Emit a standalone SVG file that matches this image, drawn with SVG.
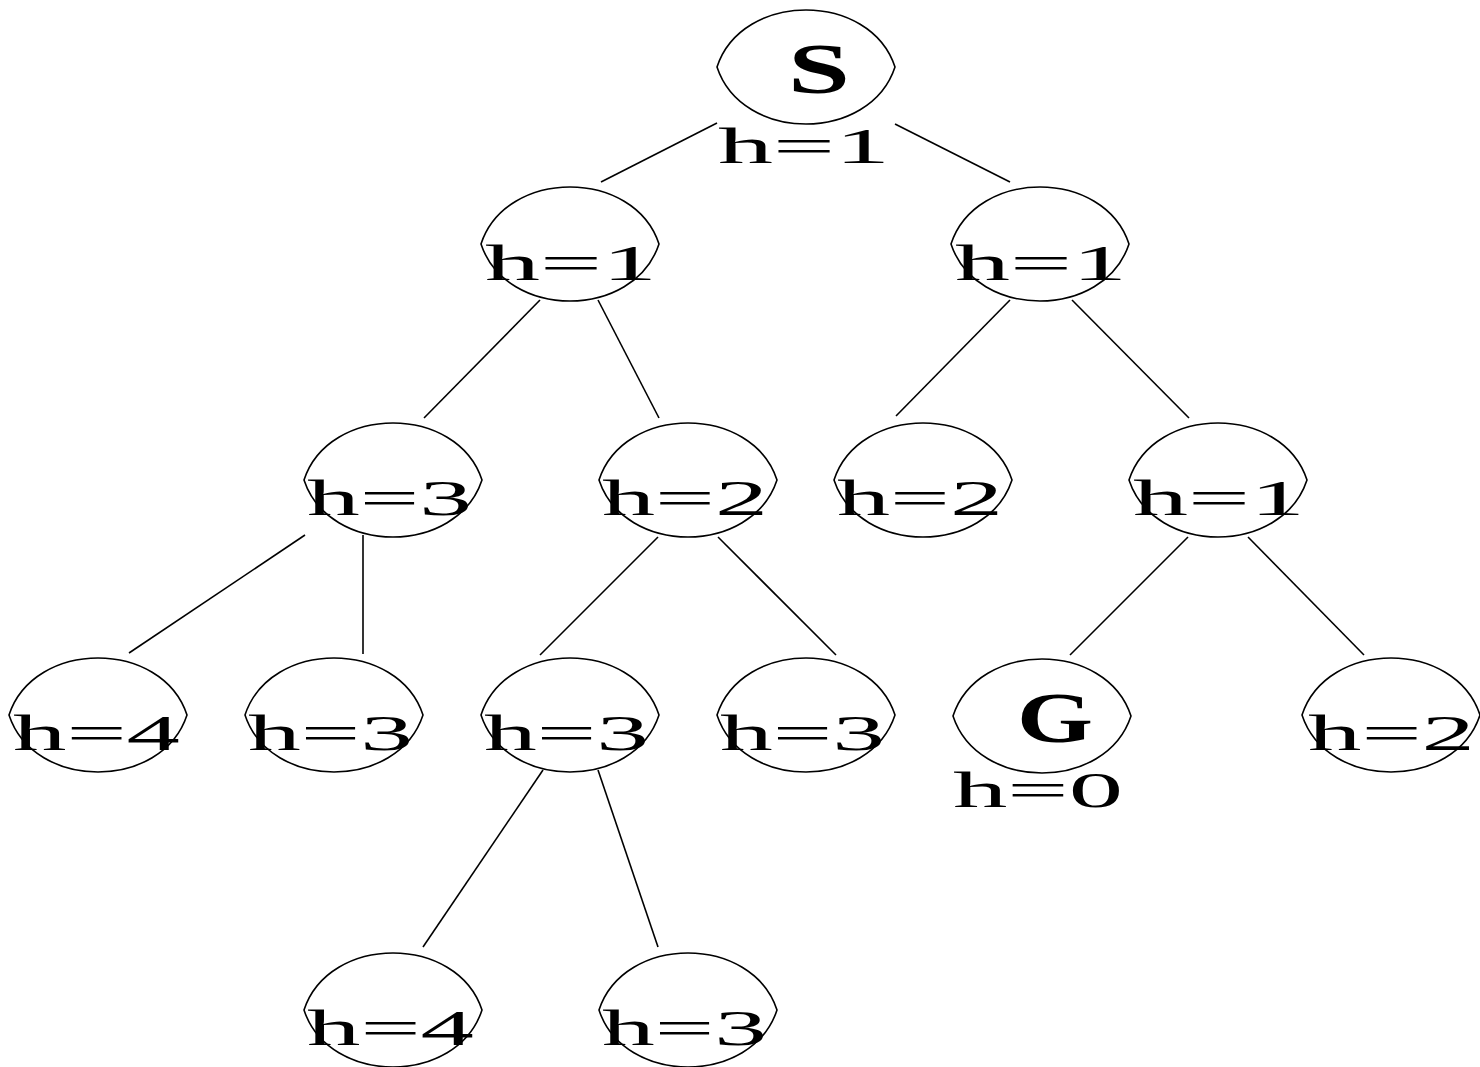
<svg xmlns="http://www.w3.org/2000/svg" width="1480" height="1067" viewBox="0 0 1480 1067">
<style>
.lens{fill:none;stroke:#000;stroke-width:1.6}
.edge{stroke:#000;stroke-width:1.6;fill:none}
.h{font-family:"Liberation Serif","Times New Roman",serif;font-size:50px;fill:#000}
.big{font-family:"Liberation Serif","Times New Roman",serif;font-size:72px;font-weight:bold;fill:#000}
</style>
<defs>
<path id="lens" class="lens" d="M-89,0 C-64,-76 64,-76 89,0 C64,76 -64,76 -89,0 Z"/>
</defs>
<rect width="1480" height="1067" fill="#fff"/>
<g id="connectors">
<line class="edge" x1="717" y1="123" x2="601" y2="182"/>
<line class="edge" x1="895" y1="124" x2="1010" y2="182"/>
<line class="edge" x1="540" y1="300" x2="424" y2="418"/>
<line class="edge" x1="598" y1="300" x2="659" y2="418"/>
<line class="edge" x1="1010" y1="300" x2="896" y2="416"/>
<line class="edge" x1="1072" y1="300" x2="1189" y2="418"/>
<line class="edge" x1="305" y1="535" x2="129" y2="653"/>
<line class="edge" x1="363" y1="535" x2="363" y2="654"/>
<line class="edge" x1="658" y1="537" x2="540" y2="655"/>
<line class="edge" x1="718" y1="537" x2="836" y2="655"/>
<line class="edge" x1="1188" y1="537" x2="1070" y2="655"/>
<line class="edge" x1="1248" y1="537" x2="1364" y2="655"/>
<line class="edge" x1="543" y1="770" x2="423" y2="947"/>
<line class="edge" x1="598" y1="770" x2="658" y2="947"/>
</g>
<g id="S"><use href="#lens" transform="translate(806,67)"/><text class="big" x="788" y="93" textLength="62" lengthAdjust="spacingAndGlyphs">S</text><text class="h" x="718" y="163" textLength="172" lengthAdjust="spacingAndGlyphs">h=1</text></g>
<g id="n1"><use href="#lens" transform="translate(570,244)"/><text class="h" x="485" y="280" textLength="172" lengthAdjust="spacingAndGlyphs">h=1</text></g>
<g id="n2"><use href="#lens" transform="translate(1040,244)"/><text class="h" x="955" y="280" textLength="172" lengthAdjust="spacingAndGlyphs">h=1</text></g>
<g id="n3"><use href="#lens" transform="translate(393,480)"/><text class="h" x="307" y="515" textLength="165" lengthAdjust="spacingAndGlyphs">h=3</text></g>
<g id="n4"><use href="#lens" transform="translate(688,480)"/><text class="h" x="602" y="515" textLength="166" lengthAdjust="spacingAndGlyphs">h=2</text></g>
<g id="n5"><use href="#lens" transform="translate(923,480)"/><text class="h" x="837" y="515" textLength="166" lengthAdjust="spacingAndGlyphs">h=2</text></g>
<g id="n6"><use href="#lens" transform="translate(1218,480)"/><text class="h" x="1133" y="515" textLength="172" lengthAdjust="spacingAndGlyphs">h=1</text></g>
<g id="n7"><use href="#lens" transform="translate(98,715)"/><text class="h" x="13" y="750" textLength="167" lengthAdjust="spacingAndGlyphs">h=4</text></g>
<g id="n8"><use href="#lens" transform="translate(334,715)"/><text class="h" x="248" y="750" textLength="165" lengthAdjust="spacingAndGlyphs">h=3</text></g>
<g id="n9"><use href="#lens" transform="translate(570,715)"/><text class="h" x="484" y="750" textLength="165" lengthAdjust="spacingAndGlyphs">h=3</text></g>
<g id="n10"><use href="#lens" transform="translate(806,715)"/><text class="h" x="720" y="750" textLength="165" lengthAdjust="spacingAndGlyphs">h=3</text></g>
<g id="G"><use href="#lens" transform="translate(1042,716)"/><text class="big" x="1017" y="742" textLength="76" lengthAdjust="spacingAndGlyphs">G</text><text class="h" x="953" y="807" textLength="170" lengthAdjust="spacingAndGlyphs">h=0</text></g>
<g id="n12"><use href="#lens" transform="translate(1391,715)"/><text class="h" x="1308" y="750" textLength="167" lengthAdjust="spacingAndGlyphs">h=2</text></g>
<g id="n13"><use href="#lens" transform="translate(393,1010)"/><text class="h" x="307" y="1045" textLength="167" lengthAdjust="spacingAndGlyphs">h=4</text></g>
<g id="n14"><use href="#lens" transform="translate(688,1010)"/><text class="h" x="602" y="1045" textLength="165" lengthAdjust="spacingAndGlyphs">h=3</text></g>
</svg>
